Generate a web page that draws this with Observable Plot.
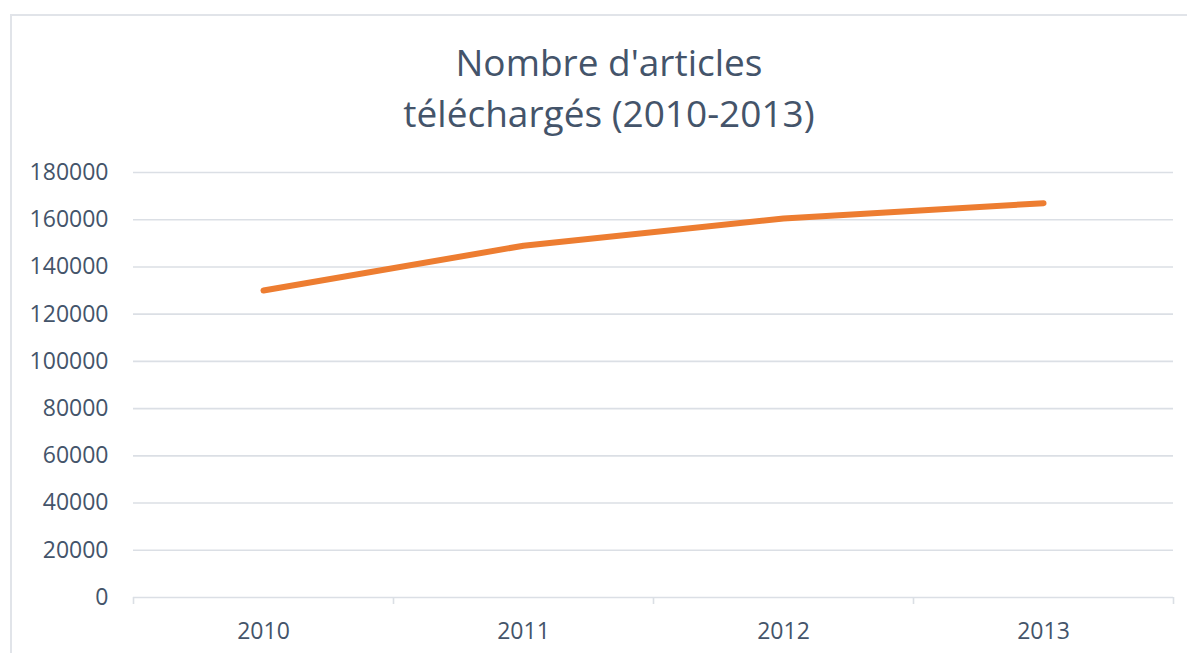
<!DOCTYPE html>
<html>
<head>
<meta charset="utf-8">
<script src="https://cdn.jsdelivr.net/npm/d3@7"></script>
<script src="https://cdn.jsdelivr.net/npm/@observablehq/plot@0.6"></script>
<style>
  html, body { margin: 0; padding: 0; background: #fff; }
  #wrap { position: relative; width: 1187px; height: 653px; overflow: hidden; font-family: "Open Sans", sans-serif; }
  #frame { position: absolute; left: 10px; top: 14px; width: 1200px; height: 700px; border-left: 2px solid #e1e4e9; border-top: 2px solid #e1e4e9; box-sizing: border-box; }
  #title { position: absolute; left: 0; width: 1218px; top: 36px; text-align: center; color: #44546A; font-size: 37px; line-height: 51px; font-family: "Open Sans", sans-serif; }
  #chart { position: absolute; left: 0; top: 0; }
</style>
</head>
<body>
<div id="wrap">
  <div id="frame"></div>
  <div id="chart"></div>
  <div id="title">Nombre d'articles<br>téléchargés (2010-2013)</div>
</div>
<script>
const years = [2010, 2011, 2012, 2013];
const articles = [130000, 149000, 160500, 167000];
const yTicks = [0, 20000, 40000, 60000, 80000, 100000, 120000, 140000, 160000, 180000];

const data = years.map((year, i) => ({year, value: articles[i]}));
const boundaries = [...years.map(y => y - 0.5), years[years.length - 1] + 0.5];

const textColor = "#44546A";
const gridColor = "#dbdfe5";

const chart = Plot.plot({
  width: 1187,
  height: 653,
  marginLeft: 133,
  marginRight: 14,
  marginTop: 172,
  marginBottom: 56,
  style: {fontFamily: "Open Sans, sans-serif", background: "transparent"},
  x: {type: "linear", domain: [boundaries[0], boundaries[boundaries.length - 1]], axis: null},
  y: {domain: [0, 180000], axis: null},
  marks: [
    Plot.ruleY(yTicks, {y: d => d, stroke: gridColor, strokeWidth: 1.6}),
    Plot.axisX({ticks: boundaries, tickSize: 7, tickFormat: () => "", stroke: gridColor, strokeWidth: 1.6, label: null, anchor: "bottom"}),
    Plot.axisX({ticks: years, tickSize: 0, tickPadding: 25, tickFormat: d => String(d), fill: textColor, fontSize: 23, label: null, anchor: "bottom"}),
    Plot.axisY({ticks: yTicks, tickSize: 0, tickPadding: 25, tickFormat: d => String(d), fill: textColor, fontSize: 23, label: null, anchor: "left"}),
    Plot.line(data, {x: "year", y: "value", stroke: "#ED7D31", strokeWidth: 6, strokeLinecap: "round", strokeLinejoin: "round"})
  ]
});
document.getElementById("chart").appendChild(chart);
</script>
</body>
</html>
